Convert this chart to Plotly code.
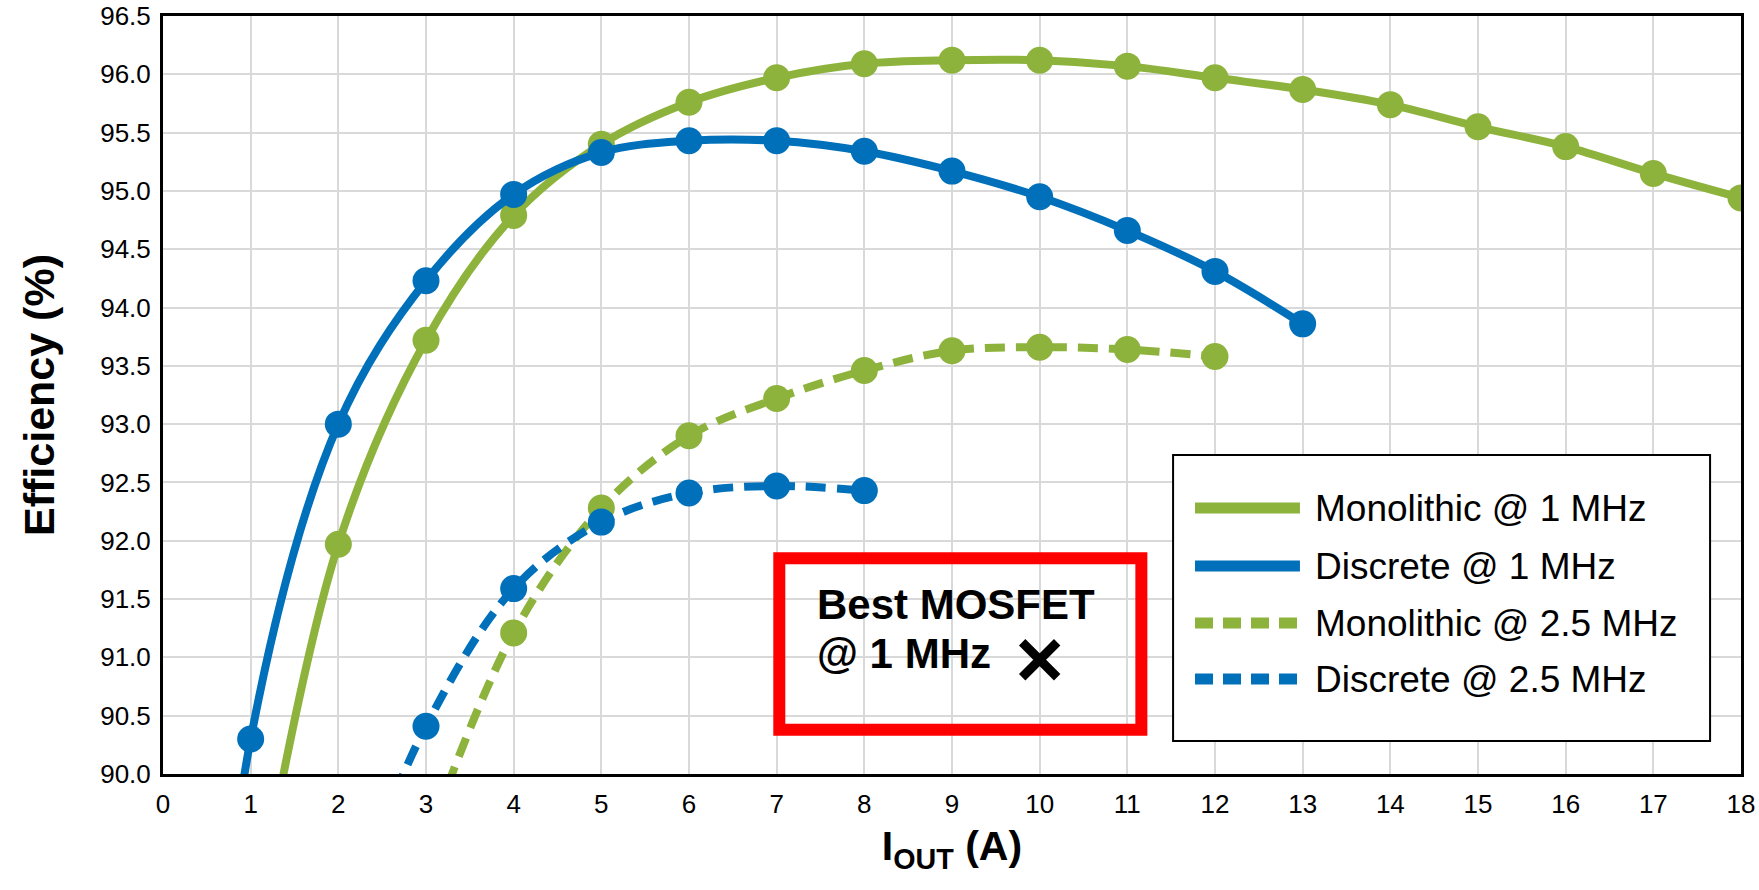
import plotly.graph_objects as go

# ---------------- data ----------------
mono1_x = [1, 2, 3, 4, 5, 6, 7, 8, 9, 10, 11, 12, 13, 14, 15, 16, 17, 18]
mono1_y = [88.5, 91.97, 93.72, 94.79, 95.40, 95.76, 95.97, 96.09, 96.12, 96.12, 96.07,
           95.97, 95.87, 95.74, 95.55, 95.38, 95.15, 94.94]

disc1_x = [0.5, 1, 2, 3, 4, 5, 6, 7, 8, 9, 10, 11, 12, 13]
disc1_y = [86.8, 90.30, 93.00, 94.23, 94.97, 95.33, 95.43, 95.43, 95.34, 95.17, 94.95,
           94.66, 94.31, 93.86]

mono25_x = [3, 4, 5, 6, 7, 8, 9, 10, 11, 12]
mono25_y = [89.4, 91.21, 92.28, 92.90, 93.22, 93.46, 93.63, 93.66, 93.64, 93.58]

disc25_x = [2, 3, 4, 5, 6, 7, 8]
disc25_y = [88.6, 90.41, 91.59, 92.16, 92.41, 92.47, 92.43]

best_x = [10]
best_y = [90.98]

names = ["Monolithic @ 1 MHz", "Discrete @ 1 MHz",
         "Monolithic @ 2.5 MHz", "Discrete @ 2.5 MHz"]

x_ticks = list(range(0, 19))
y_ticks = [90.0 + 0.5 * i for i in range(14)]

# ---------------- styles ----------------
GREEN = "#8db33c"
BLUE = "#0070bb"
FONT = "Liberation Sans, Arial, sans-serif"
LW = 8
MS = 27
DASH_PLOT = "20px,11px"
DASH_LEG = "18px,10px"

fig = go.Figure()

series = [
    (mono1_x, mono1_y, GREEN, "solid"),
    (disc1_x, disc1_y, BLUE, "solid"),
    (mono25_x, mono25_y, GREEN, DASH_PLOT),
    (disc25_x, disc25_y, BLUE, DASH_PLOT),
]
for (xs, ys, col, dash), nm in zip(series, names):
    fig.add_trace(go.Scatter(
        x=xs, y=ys, mode="lines+markers", name=nm, showlegend=False,
        line=dict(color=col, width=LW, dash=dash, shape="spline", smoothing=1.0),
        marker=dict(color=col, size=MS),
    ))

# best MOSFET marker
fig.add_trace(go.Scatter(
    x=best_x, y=best_y, mode="markers", showlegend=False, name="Best MOSFET @ 1 MHz",
    marker=dict(symbol="x-thin", size=35, line=dict(color="black", width=9)),
))

# red box around annotation
fig.add_shape(type="rect", xref="x", yref="y", x0=7.03, x1=11.16, y0=90.38, y1=91.85,
              line=dict(color="#ff0000", width=12), fillcolor="rgba(0,0,0,0)", layer="above")

fig.add_annotation(x=7.44, y=91.455, xref="x", yref="y", text="<b>Best MOSFET</b>",
                   showarrow=False, xanchor="left", yanchor="middle",
                   font=dict(family=FONT, size=42, color="black"))
fig.add_annotation(x=7.44, y=91.03, xref="x", yref="y", text="<b>@ 1 MHz</b>",
                   showarrow=False, xanchor="left", yanchor="middle",
                   font=dict(family=FONT, size=42, color="black"))

# ---------------- legend (drawn in paper coordinates) ----------------
leg_box = dict(x0=0.6401, x1=0.9804, y0=0.0435, y1=0.4208)
leg_line_x = (0.6540, 0.7205)
leg_text_x = 0.7288
leg_rows_y = [0.3509, 0.2744, 0.1992, 0.1253]

fig.add_shape(type="rect", xref="paper", yref="paper", **leg_box,
              line=dict(color="black", width=2), fillcolor="white", layer="above")
for (xs, ys, col, dash), nm, ry in zip(series, names, leg_rows_y):
    fig.add_shape(type="line", xref="paper", yref="paper",
                  x0=leg_line_x[0], x1=leg_line_x[1], y0=ry, y1=ry, layer="above",
                  line=dict(color=col, width=11,
                            dash=("solid" if dash == "solid" else DASH_LEG)))
    fig.add_annotation(x=leg_text_x, y=ry, xref="paper", yref="paper", text=nm,
                       showarrow=False, xanchor="left", yanchor="middle",
                       font=dict(family=FONT, size=37, color="black"))

fig.update_layout(
    width=1759, height=890,
    margin=dict(l=163, r=18, t=16, b=116, autoexpand=False),
    paper_bgcolor="white", plot_bgcolor="white",
    font=dict(family=FONT, color="black"),
    showlegend=False,
    xaxis=dict(
        range=[0, 18], tickmode="array", tickvals=x_ticks, automargin=False,
        showgrid=True, gridcolor="#d9d9d9", gridwidth=2,
        showline=True, linecolor="black", linewidth=3, mirror=True,
        ticks="", ticklabelstandoff=5,
        tickfont=dict(family=FONT, size=26, color="black"),
        zeroline=False,
        title=dict(text="<b>I<sub>OUT</sub> (A)</b>", standoff=14,
                   font=dict(family=FONT, size=41, color="black")),
    ),
    yaxis=dict(
        range=[90, 96.5], tickmode="array", tickvals=y_ticks, tickformat=".1f",
        automargin=False,
        showgrid=True, gridcolor="#d9d9d9", gridwidth=2,
        showline=True, linecolor="black", linewidth=3, mirror=True,
        ticks="", ticklabelstandoff=4,
        tickfont=dict(family=FONT, size=26, color="black"),
        zeroline=False,
        title=dict(text="<b>Efficiency (%)</b>", standoff=33,
                   font=dict(family=FONT, size=43, color="black")),
    ),
)

fig.write_html(
    "out.html",
    config={"displayModeBar": False},
    post_script="document.body.style.margin='0px';"
                "document.documentElement.style.overflow='hidden';",
)
